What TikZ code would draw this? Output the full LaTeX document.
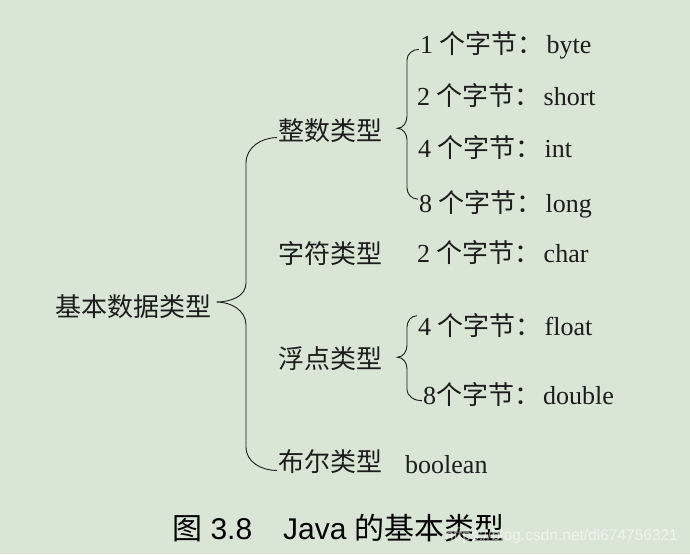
\documentclass[tikz,border=0pt]{standalone}
\usepackage{fontspec}
\setmainfont{Liberation Serif}
\setsansfont{Liberation Sans}
\newfontfamily\cjk{Noto Sans CJK SC}
\definecolor{paper}{RGB}{217,230,214}
\definecolor{ink}{RGB}{28,28,28}
\newcommand{\zjie}{{\cjk 个字节：}\hspace{3pt}}
\tikzset{every node/.style={inner sep=1pt, text=ink},
         kind/.style={anchor=base west, font=\cjk\fontsize{26}{30}\selectfont},
         size/.style={anchor=base west, font=\fontsize{26}{30}\selectfont},
         brace/.style={draw=ink, line width=0.9pt},
        }

\begin{document}
\begin{tikzpicture}[x=1pt,y=-1pt]
        \fill[paper](0,0)rectangle(690,554);

        \node[kind](root)at(54,316){基本数据类型};
        \node[kind](zhengshu)at(277,140){整数类型};
        \node[kind](zifu)at(277,263){字符类型};
        \node[kind](fudian)at(277,368){浮点类型};
        \node[kind](buer)at(277,471){布尔类型};

        \node[size](byte)at(419,53){1 \zjie byte};
        \node[size](short)at(416,105){2 \zjie short};
        \node[size](int)at(417,157){4 \zjie int};
        \node[size](long)at(418,212){8 \zjie long};
        \node[size](char)at(416,262){2 \zjie char};
        \node[size](float)at(417,335){4 \zjie float};
        \node[size](double)at(422,404){8\zjie double};
        \node[size](boolean)at(404,473){boolean};

        \draw[brace](zhengshu.188)to[out=180,in=90](246,163)--(246,283)
                to[out=-90,in=0]([xshift=4pt]root.3)
                to[out=0,in=90](246,325)--(246,447)to[out=-90,in=180](buer.190);

        \draw[brace](byte.183)to[out=180,in=90](407,60)--(407,116)
                to[out=-90,in=0]([xshift=14pt]zhengshu.2)
                to[out=0,in=90](407,140)--(407,188)to[out=-90,in=180](long.177);

        \draw[brace](float.174)to[out=180,in=90](407,327)--(407,345)
                to[out=-90,in=0]([xshift=14pt]fudian.1)
                to[out=0,in=90](407,369)--(407,389)to[out=-90,in=180](double.184);

        \node[anchor=base west, font=\sffamily\fontsize{30}{34}\selectfont, text=black](caption)at(171,539)
                {{\cjk 图} 3.8\hspace{31pt}Java {\cjk 的基本类型}};
        \node[anchor=base west, font=\sffamily\fontsize{15.5}{18}\selectfont, text=white, text opacity=0.55](mark)at(444,540)
                {https://blog.csdn.net/dl674756321};
    \end{tikzpicture}
\end{document}
